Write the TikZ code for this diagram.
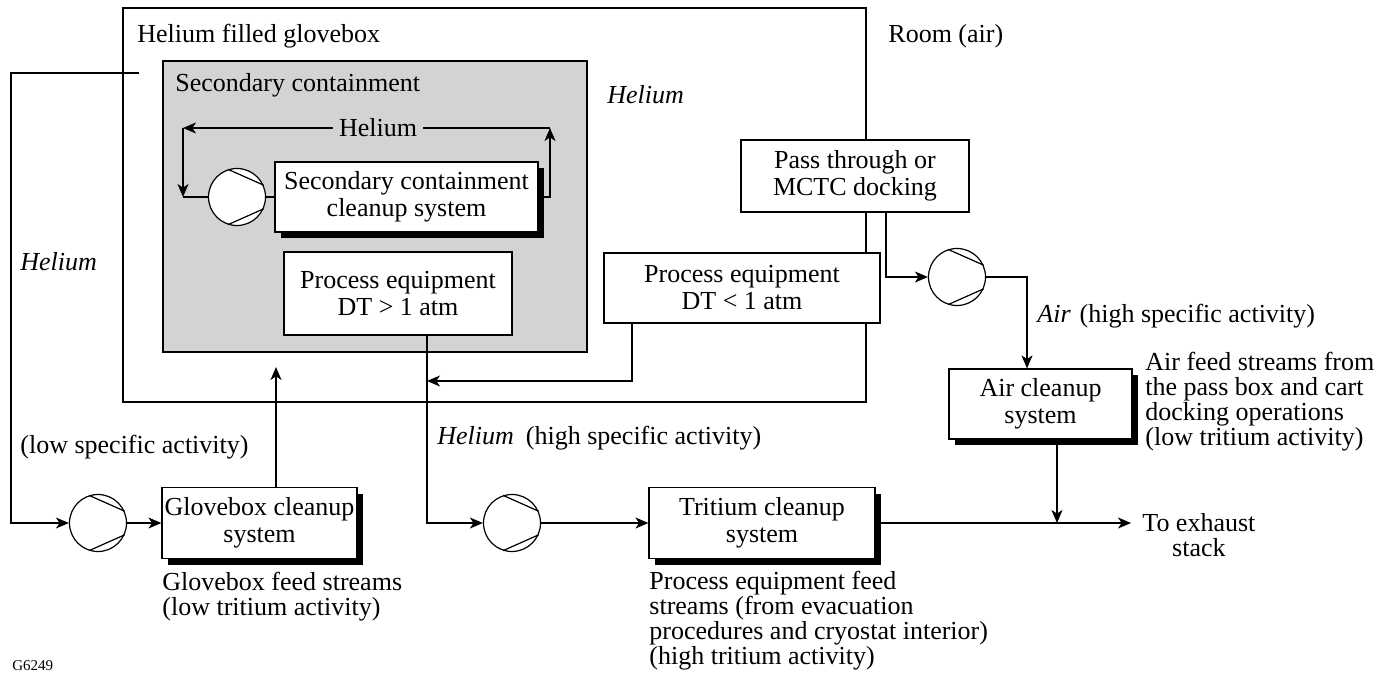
\documentclass[tikz,border=0pt]{standalone}
\usepackage{fontspec}
\setmainfont{Liberation Serif}
\usetikzlibrary{arrows.meta,shadows}
\definecolor{scgray}{RGB}{209,211,212}
\newcommand\pumpblades[1]{%
  \draw[line width=0.6pt] (#1.108) -- (#1.24);
  \draw[line width=0.6pt] (#1.-108) -- (#1.-24);}
\begin{document}
\begin{tikzpicture}[x=0.5pt,y=-0.5pt,
  font=\fontsize{13}{13.5}\selectfont,
  box/.style={draw, line width=0.6pt, fill=white, align=center, inner sep=0pt},
  shbox/.style={box, drop shadow={shadow xshift=3pt, shadow yshift=-3pt, opacity=1, fill=black}},
  pump/.style={circle, draw, line width=0.6pt, fill=white, minimum size=28.5pt, inner sep=0pt},
  flow/.style={line width=0.6pt},
  arr/.style={flow, -{Stealth[length=6.5pt,width=5.5pt,inset=1.8pt]}},
  lbl/.style={inner sep=0pt, align=left, font=\fontsize{13}{12.5}\selectfont},
  txt/.style={inner sep=0pt, anchor=base west},
]
\fill[white] (0,0) rectangle (1395,679);
\useasboundingbox (0,0) rectangle (1395,679);

% enclosures
\node[draw, line width=1.25pt, minimum width=371.5pt, minimum height=197pt, inner sep=0pt] (glovebox) at (494.5,205) {};
\node[draw, line width=0.6pt, fill=scgray, minimum width=212pt, minimum height=145.5pt, inner sep=0pt] (secbox) at (375,206.5) {};

\node[txt] (tglove) at (137,43) {Helium filled glovebox};
\node[txt] (troom) at (888,43) {Room (air)};
\node[txt] (tsec) at (175,92) {Secondary containment};
\node[txt] (theg) at (607,104) {\itshape Helium};

% equipment boxes
\node[shbox, minimum width=131.5pt, minimum height=35pt] (sccs) at (406.5,197) {Secondary containment\\cleanup system};
\node[box, minimum width=114pt, minimum height=41.5pt] (pe1) at (398,293.5) {Process equipment\\DT > 1 atm};
\node[box, minimum width=138pt, minimum height=35pt] (pe2) at (742,288) {Process equipment\\DT < 1 atm};
\node[box, minimum width=114pt, minimum height=36pt] (pass) at (855,176) {Pass through or\\MCTC docking};
\node[shbox, minimum width=97.5pt, minimum height=35.5pt] (gbc) at (259.5,523) {Glovebox cleanup\\system};
\node[shbox, minimum width=113pt, minimum height=35.5pt] (tcs) at (762,523) {Tritium cleanup\\system};
\node[shbox, minimum width=91.5pt, minimum height=35pt] (acs) at (1040.5,404) {Air cleanup\\system};

% pumps
\node[pump] (p1) at (237,197) {};
\node[pump] (p2) at (98,523) {};
\node[pump] (p3) at (512,523) {};
\node[pump] (p4) at (957,277) {};
\pumpblades{p1}\pumpblades{p2}\pumpblades{p3}\pumpblades{p4}

% secondary containment helium loop
\node[inner xsep=3pt, inner ysep=0pt, fill=scgray] (heloop) at (378,128) {Helium};
\coordinate (loopNE) at (550,128);
\coordinate (loopNW) at (183,128);
\coordinate (loopSW) at (183,197);
\draw[arr] (sccs.east) -| (loopNE);
\draw[flow] (loopNE) -- (heloop.east);
\draw[arr] (heloop.west) -- (loopNW);
\draw[arr] (loopNW) -- (loopSW);
\draw[flow] (loopSW) -- (p1.west);
\draw[flow] (p1.east) -- (sccs.west);

% glovebox atmosphere loop
\coordinate (gbTap) at (139,73);
\coordinate (gbTurn) at (11,523);
\coordinate (gbRet) at (276,367);
\draw[arr] (gbTap) -| (gbTurn) -- (p2.west);
\draw[arr] (p2.east) -- (gbc.west);
\draw[arr] (gbc.north -| gbRet) -- (gbRet);
\node[txt] (theleft) at (20,270) {\itshape Helium};
\node[txt] (tlowsa) at (20,453) {(low specific activity)};

% process helium to tritium cleanup
\coordinate (heDrop) at (427,523);
\coordinate (pe2Out) at (632,381);
\coordinate (pe2In) at (427,381);
\draw[arr] (pe1.south -| heDrop) -- (heDrop) -- (p3.west);
\draw[arr] (pe2.south -| pe2Out) -- (pe2Out) -- (pe2In);
\draw[arr] (p3.east) -- (tcs.west);
\node[txt] (thehigh) at (437,444) {\textit{Helium}\hspace{6pt}(high specific activity)};

% air from pass through / docking
\coordinate (paTurn) at (886,277);
\coordinate (airX) at (1027,300);
\draw[arr] (pass.south -| paTurn) -- (paTurn) -- (p4.west);
\draw[arr] (p4.east) -| (acs.north -| airX);
\node[txt] (tair) at (1037,322) {\textit{Air}\hspace{4.5pt}(high specific activity)};

% exhaust
\coordinate (exJoin) at (1057,523);
\coordinate (exEnd) at (1131,523);
\draw[arr] (acs.south -| exJoin) -- (exJoin);
\draw[arr] (tcs.east) -- (exEnd);
\node[lbl, align=center, anchor=north west] (texh) at (1142,513) {To exhaust\\stack};

% feed stream notes
\node[lbl, anchor=north west] (tgbfeed) at (162,572) {Glovebox feed streams\\(low tritium activity)};
\node[lbl, anchor=north west] (tpefeed) at (649,571) {Process equipment feed\\streams (from evacuation\\procedures and cryostat interior)\\(high tritium activity)};
\node[lbl, anchor=north west] (tairfeed) at (1145,352) {Air feed streams from\\the pass box and cart\\docking operations\\(low tritium activity)};

\node[txt, font=\fontsize{7.5}{9}\selectfont] (tid) at (12,670) {G6249};
\end{tikzpicture}
\end{document}
